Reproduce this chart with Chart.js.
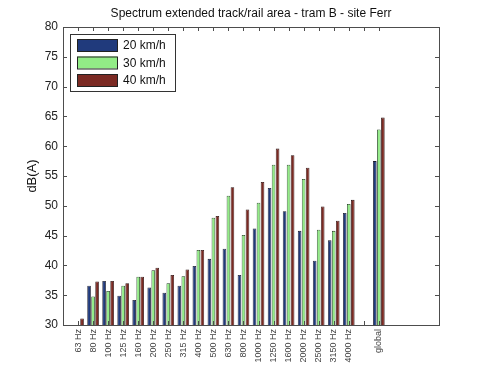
<!DOCTYPE html>
<html>
<head>
<meta charset="utf-8">
<script src="https://cdn.jsdelivr.net/npm/chart.js@4"></script>
<style>
  html, body { margin: 0; padding: 0; background: #fff; }
  #wrap { width: 485px; height: 365px; }
</style>
</head>
<body>
<div id="wrap"><canvas id="chartSpectrum" width="485" height="365"></canvas></div>
<script>
// third-octave bands shown on the x axis
const bandLabels = ['63 Hz', '80 Hz', '100 Hz', '125 Hz', '160 Hz', '200 Hz', '250 Hz', '315 Hz',
    '400 Hz', '500 Hz', '630 Hz', '800 Hz', '1000 Hz', '1250 Hz', '1600 Hz', '2000 Hz',
    '2500 Hz', '3150 Hz', '4000 Hz'];
const globalLabel = 'global';
const speedLabels = ['20 km/h', '30 km/h', '40 km/h'];

// levels in dB(A), per band (null = below the axis)
const level20 = [null, 36.6, 37.4, 34.9, 34.2, 36.3, 35.4, 36.6, 39.9, 41.1, 42.8, 38.4, 46.2, 53.0, 49.1, 45.8, 40.8, 44.2, 48.8];
const level30 = [null, 34.8, 35.7, 36.6, 38.1, 39.2, 37.0, 38.2, 42.6, 48.0, 51.7, 45.1, 50.5, 56.9, 56.9, 54.5, 46.0, 45.8, 50.3];
const level40 = [31.1, 37.3, 37.4, 37.0, 38.1, 39.6, 38.4, 39.3, 42.6, 48.3, 53.1, 49.4, 54.0, 59.6, 58.5, 56.4, 49.9, 47.5, 51.0];
const global20 = 57.5;
const global30 = 62.8;
const global40 = 64.8;

const yTicks = [30, 35, 40, 45, 50, 55, 60, 65, 70, 75, 80];

// axis runs 0..25 like the matlab plot, bands at 1..19, global at 21
const allLabels = [''].concat(bandLabels, ['', globalLabel, '', '', '', '']);
function pad(values, globalValue) {
    return [null].concat(values, [null, globalValue, null, null, null, null]);
}

const axisColor = '#4d4d4d';

// box, inward ticks and legend box like matlab
const matlabFrame = {
    id: 'matlabFrame',
    afterDraw(chart) {
        const ctx = chart.ctx;
        const a = chart.chartArea;
        const xs = chart.scales.x;
        const ys = chart.scales.y;
        ctx.save();
        ctx.strokeStyle = axisColor;
        ctx.lineWidth = 1;
        ctx.strokeRect(Math.round(a.left) + 0.5, Math.round(a.top) + 0.5,
            Math.round(a.right - a.left), Math.round(a.bottom - a.top));
        ctx.beginPath();
        yTicks.forEach(function (v) {
            const y = Math.round(ys.getPixelForValue(v)) + 0.5;
            ctx.moveTo(a.left, y); ctx.lineTo(a.left + 4, y);
            ctx.moveTo(a.right, y); ctx.lineTo(a.right - 4, y);
        });
        for (let i = 1; i <= 21; i++) {
            const x = Math.round(xs.getPixelForValue(i)) + 0.5;
            ctx.moveTo(x, a.top); ctx.lineTo(x, a.top + 4);
            ctx.moveTo(x, a.bottom); ctx.lineTo(x, a.bottom - 4);
        }
        ctx.stroke();

        // legend
        const bx = 70, by = 34, bw = 105, bh = 57;
        ctx.fillStyle = '#fff';
        ctx.fillRect(bx, by, bw, bh);
        ctx.strokeStyle = '#333';
        ctx.strokeRect(bx + 0.5, by + 0.5, bw, bh);
        ctx.font = '12px "Liberation Sans", Arial, sans-serif';
        ctx.textBaseline = 'middle';
        chart.data.datasets.forEach(function (ds, i) {
            const cy = by + 11 + i * 17.5;
            ctx.fillStyle = ds.backgroundColor;
            ctx.fillRect(77, cy - 6, 40, 12);
            ctx.strokeStyle = '#222';
            ctx.strokeRect(77.5, cy - 5.5, 40, 12);
            ctx.fillStyle = '#111';
            ctx.fillText(ds.label, 123, cy + 1);
        });
        ctx.restore();
    }
};

window.onload = function () {
    const ctxSpectrum = document.getElementById('chartSpectrum');
    new Chart(ctxSpectrum.getContext('2d'), {
        type: 'bar',
        data: {
            labels: allLabels,
            datasets: [{
                label: speedLabels[0],
                data: pad(level20, global20),
                backgroundColor: '#203a7c',
                borderColor: '#1a1a2a',
                borderWidth: 0.8
            }, {
                label: speedLabels[1],
                data: pad(level30, global30),
                backgroundColor: '#92ec86',
                borderColor: '#1f3a1f',
                borderWidth: 0.8
            }, {
                label: speedLabels[2],
                data: pad(level40, global40),
                backgroundColor: '#7b2a23',
                borderColor: '#2a1010',
                borderWidth: 0.8
            }]
        },
        options: {
            responsive: false,
            animation: false,
            devicePixelRatio: 1,
            layout: { padding: { left: 21, right: 46, top: 0, bottom: 0 } },
            plugins: {
                legend: { display: false },
                tooltip: { enabled: false },
                title: {
                    display: true,
                    fullSize: false,
                    text: 'Spectrum extended track/rail area - tram B - site Ferr',
                    color: '#111',
                    font: { family: '"Liberation Sans", Arial, sans-serif', size: 12, weight: 'normal', lineHeight: 1.2 },
                    padding: { top: 6, bottom: 6.6 }
                }
            },
            scales: {
                x: {
                    offset: false,
                    categoryPercentage: 0.7,
                    barPercentage: 1.0,
                    grid: { display: false, drawTicks: false },
                    border: { display: false },
                    ticks: {
                        autoSkip: false,
                        minRotation: 90,
                        maxRotation: 90,
                        padding: 4,
                        color: '#444',
                        font: { family: '"Liberation Sans", Arial, sans-serif', size: 9 }
                    },
                    afterFit: function (scale) { scale.height = 40; }
                },
                y: {
                    min: 30,
                    max: 80,
                    grid: { display: false, drawTicks: false },
                    border: { display: false },
                    ticks: {
                        stepSize: 5,
                        padding: 5,
                        color: '#222',
                        font: { family: '"Liberation Sans", Arial, sans-serif', size: 12 }
                    },
                    title: {
                        display: true,
                        text: 'dB(A)',
                        color: '#111',
                        font: { family: '"Liberation Sans", Arial, sans-serif', size: 13 }
                    },
                    afterFit: function (scale) { scale.width = 42; }
                }
            }
        },
        plugins: [matlabFrame]
    });
};
</script>
</body>
</html>
